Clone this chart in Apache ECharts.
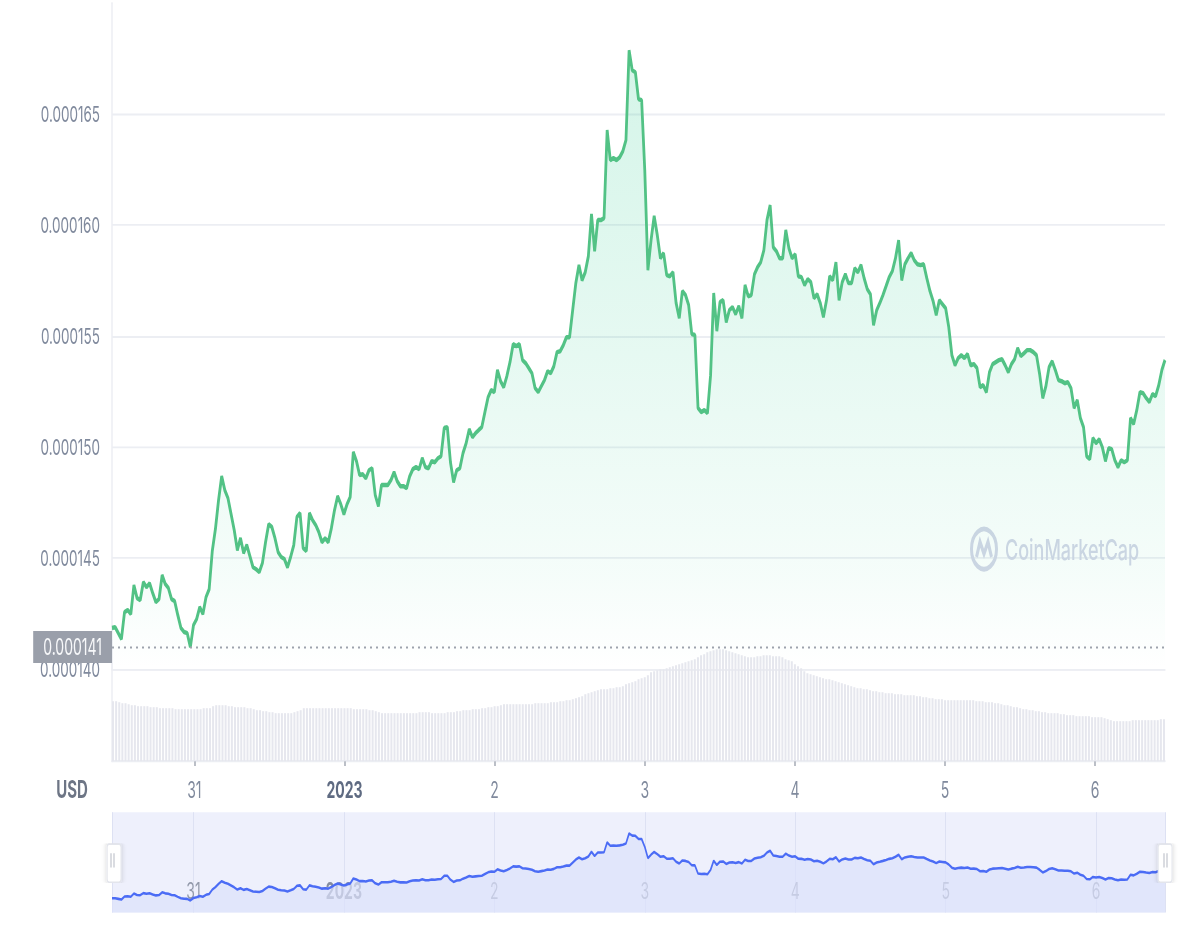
<!DOCTYPE html>
<html><head><meta charset="utf-8">
<script src="https://cdn.jsdelivr.net/npm/echarts@6/dist/echarts.min.js"></script>
<style>
html,body{margin:0;padding:0;background:#fff;}
#wrap{width:1200px;height:930px;overflow:hidden;background:#fff;}
#chart{width:1200px;height:581px;transform:scaleY(1.6007);transform-origin:0 0;}
</style>
</head><body><div id="wrap"><div id="chart"></div></div>
<script>
// ---- data ----
const startTime = new Date(2022, 11, 30, 11, 0, 0).getTime(); // first sample
const stepMinutes = 30;
const currency = 'USD';
const watermarkText = 'CoinMarketCap';
const referencePrice = 0.000141;
const priceAxisMin = 0.000140, priceAxisMax = 0.000170, priceAxisStep = 0.000005;

const prices = [
0.00014185,0.00014189,0.00014162,0.00014135,0.00014257,0.00014266,0.00014248,0.00014378,0.00014320,0.00014311,
0.00014392,0.00014369,0.00014387,0.00014342,0.00014302,0.00014315,0.00014423,0.00014383,0.00014365,0.00014315,
0.00014306,0.00014243,0.00014185,0.00014167,0.00014162,0.00014099,0.00014198,0.00014225,0.00014279,0.00014248,
0.00014324,0.00014360,0.00014532,0.00014631,0.00014761,0.00014869,0.00014806,0.00014770,0.00014698,0.00014626,
0.00014536,0.00014590,0.00014523,0.00014559,0.00014509,0.00014459,0.00014450,0.00014437,0.00014478,0.00014572,
0.00014653,0.00014640,0.00014590,0.00014527,0.00014505,0.00014496,0.00014459,0.00014505,0.00014559,0.00014685,
0.00014703,0.00014545,0.00014532,0.00014703,0.00014671,0.00014649,0.00014617,0.00014572,0.00014590,0.00014572,
0.00014635,0.00014716,0.00014779,0.00014743,0.00014698,0.00014743,0.00014775,0.00014978,0.00014937,0.00014874,
0.00014878,0.00014860,0.00014896,0.00014905,0.00014784,0.00014734,0.00014829,0.00014829,0.00014829,0.00014851,
0.00014887,0.00014847,0.00014824,0.00014824,0.00014815,0.00014869,0.00014901,0.00014910,0.00014901,0.00014950,
0.00014910,0.00014905,0.00014937,0.00014932,0.00014950,0.00014959,0.00015086,0.00015090,0.00014932,0.00014842,
0.00014896,0.00014905,0.00014973,0.00015018,0.00015081,0.00015045,0.00015063,0.00015077,0.00015090,0.00015158,
0.00015225,0.00015257,0.00015248,0.00015347,0.00015297,0.00015270,0.00015320,0.00015383,0.00015464,0.00015455,
0.00015464,0.00015392,0.00015378,0.00015356,0.00015333,0.00015266,0.00015248,0.00015275,0.00015302,0.00015342,
0.00015333,0.00015365,0.00015428,0.00015432,0.00015459,0.00015495,0.00015495,0.00015617,0.00015739,0.00015820,
0.00015752,0.00015788,0.00015860,0.00016050,0.00015883,0.00016023,0.00016023,0.00016032,0.00016428,0.00016293,
0.00016302,0.00016293,0.00016306,0.00016333,0.00016383,0.00016788,0.00016698,0.00016689,0.00016568,0.00016563,
0.00016248,0.00015797,0.00015932,0.00016041,0.00015955,0.00015851,0.00015874,0.00015775,0.00015770,0.00015788,
0.00015649,0.00015581,0.00015703,0.00015685,0.00015640,0.00015509,0.00015505,0.00015176,0.00015158,0.00015167,
0.00015153,0.00015324,0.00015694,0.00015523,0.00015653,0.00015662,0.00015563,0.00015617,0.00015631,0.00015599,
0.00015635,0.00015581,0.00015730,0.00015680,0.00015685,0.00015779,0.00015811,0.00015833,0.00015887,0.00016023,
0.00016090,0.00015901,0.00015883,0.00015851,0.00015851,0.00015978,0.00015896,0.00015851,0.00015869,0.00015770,
0.00015766,0.00015730,0.00015757,0.00015743,0.00015671,0.00015689,0.00015649,0.00015586,0.00015662,0.00015770,
0.00015752,0.00015833,0.00015662,0.00015743,0.00015779,0.00015739,0.00015739,0.00015806,0.00015788,0.00015820,
0.00015761,0.00015712,0.00015689,0.00015550,0.00015617,0.00015649,0.00015685,0.00015725,0.00015766,0.00015793,
0.00015851,0.00015932,0.00015752,0.00015824,0.00015851,0.00015874,0.00015842,0.00015824,0.00015820,0.00015824,
0.00015761,0.00015703,0.00015658,0.00015595,0.00015662,0.00015644,0.00015626,0.00015541,0.00015414,0.00015369,
0.00015401,0.00015414,0.00015401,0.00015419,0.00015369,0.00015374,0.00015356,0.00015270,0.00015279,0.00015248,
0.00015338,0.00015374,0.00015383,0.00015392,0.00015396,0.00015369,0.00015338,0.00015374,0.00015396,0.00015446,
0.00015410,0.00015423,0.00015437,0.00015437,0.00015428,0.00015414,0.00015329,0.00015221,0.00015275,0.00015360,
0.00015387,0.00015347,0.00015302,0.00015297,0.00015288,0.00015293,0.00015266,0.00015176,0.00015212,0.00015131,
0.00015090,0.00014959,0.00014946,0.00015041,0.00015018,0.00015036,0.00015000,0.00014937,0.00014995,0.00014991,
0.00014941,0.00014910,0.00014941,0.00014932,0.00014941,0.00015131,0.00015104,0.00015167,0.00015248,0.00015243,
0.00015221,0.00015203,0.00015239,0.00015230,0.00015279,0.00015347,0.00015392
];

const volumes = [
60,60,59,58,58,57,56,56,55,55,
55,55,54,54,54,53,53,53,53,53,
52,52,52,52,52,52,52,52,52,53,
53,53,55,56,56,56,56,55,55,54,
54,54,54,53,53,52,51,51,50,50,
49,49,48,48,48,48,48,48,49,50,
51,53,53,53,53,53,53,53,53,53,
53,53,53,53,53,53,53,52,52,52,
52,52,51,51,50,49,48,48,48,48,
48,48,48,48,48,48,48,48,49,49,
49,49,48,48,48,48,48,49,49,49,
50,50,51,51,51,52,52,52,53,53,
54,54,55,55,56,57,57,57,57,57,
57,57,57,57,57,58,58,58,58,58,
59,59,59,60,60,61,61,62,63,64,
65,67,68,69,70,71,72,72,72,73,
73,74,74,75,77,78,79,80,82,83,
84,86,89,90,91,92,92,93,94,95,
96,97,98,99,100,101,102,104,106,107,
109,110,111,112,112,112,111,110,109,108,
107,106,105,104,104,104,105,105,106,106,
106,105,105,105,104,102,101,100,97,95,
93,90,88,87,86,85,84,83,82,82,
81,80,79,78,77,76,75,74,73,73,
72,72,71,70,70,69,69,68,68,68,
67,67,67,66,66,66,66,65,65,64,
64,63,63,62,62,62,61,61,61,61,
61,61,61,61,61,61,60,60,60,59,
59,59,58,58,57,56,56,55,54,54,
53,52,52,51,51,50,50,49,49,48,
48,48,48,47,47,46,46,46,45,45,
45,45,45,44,44,44,44,43,42,41,
40,40,40,40,40,40,41,41,41,41,
41,41,41,41,41,42,42
];

// ---- build ----
const times = prices.map((_, i) => startTime + i * stepMinutes * 60000);
const xMin = times[0], xMax = times[times.length - 1];
const priceData = times.map((t, i) => [t, prices[i]]);
const volumeData = times.map((t, i) => [t, volumes[i]]);
const DAY = 24 * 3600 * 1000;

function dayLabel(v) {
  const d = new Date(v);
  if (d.getHours() !== 0 || d.getMinutes() !== 0) return '';
  if (d.getDate() === 1 && d.getMonth() === 0) return '{y|' + d.getFullYear() + '}';
  return '{d|' + d.getDate() + '}';
}

const FONT = 'Inter, "Liberation Sans", sans-serif';
const grid = '#eceef3';
const chart = echarts.init(document.getElementById('chart'), null, { renderer: 'svg' });
chart.setOption({
  animation: false,
  backgroundColor: '#ffffff',
  textStyle: { fontFamily: FONT },
  grid: [
    { left: 112, right: 35, top: 2, height: 416 },
    { left: 112, right: 35, top: 400, height: 75.5 },
    { left: 112, right: 35, top: 507.5, height: 62.5, show: true, backgroundColor: '#eef0fc', borderWidth: 0 }
  ],
  xAxis: [
    { type: 'time', gridIndex: 0, min: xMin, max: xMax,
      axisLine: { show: true, lineStyle: { color: grid, width: 1.2 } },
      axisTick: { show: false }, axisLabel: { show: false }, splitLine: { show: false } },
    { type: 'time', gridIndex: 1, min: xMin, max: xMax, minInterval: DAY, maxInterval: DAY,
      axisLine: { show: true, lineStyle: { color: grid, width: 1.4 } },
      axisTick: { show: true, length: 3, lineStyle: { color: '#a4aab5', width: 1.5 } },
      axisLabel: { formatter: dayLabel, margin: 11, showMinLabel: false, showMaxLabel: false,
        rich: { d: { fontSize: 14, color: '#808a9d' }, y: { fontSize: 14, color: '#5f6b82', fontWeight: 'bold' } } },
      splitLine: { show: false } },
    { type: 'time', gridIndex: 2, min: xMin, max: xMax, minInterval: DAY, maxInterval: DAY,
      axisLine: { show: false }, axisTick: { show: false },
      axisLabel: { inside: true, formatter: dayLabel, margin: 6, showMinLabel: false, showMaxLabel: false,
        rich: { d: { fontSize: 14, color: '#939aab' }, y: { fontSize: 14, color: '#858da0', fontWeight: 'bold' } } },
      splitLine: { show: true, lineStyle: { color: '#dde1f3', width: 1 } } }
  ],
  yAxis: [
    { type: 'value', gridIndex: 0, min: priceAxisMin, max: priceAxisMax, interval: priceAxisStep,
      axisLine: { show: true, lineStyle: { color: grid, width: 1.5 } }, axisTick: { show: false },
      axisLabel: { formatter: v => v.toFixed(6), fontSize: 13.5, color: '#808a9d', margin: 12, showMaxLabel: false },
      splitLine: { show: true, lineStyle: { color: [grid, grid, grid, grid, grid, grid, 'rgba(0,0,0,0)'], width: 1.2 } } },
    { type: 'value', gridIndex: 1, min: 0, max: 121,
      axisLine: { show: true, lineStyle: { color: grid, width: 1.5 } }, axisTick: { show: false },
      axisLabel: { show: false }, splitLine: { show: false } },
    { type: 'value', gridIndex: 2, min: 0.0001362, max: 0.0001763, show: false }
  ],
  dataZoom: [{
    type: 'slider', xAxisIndex: [0, 1], filterMode: 'none', start: 0, end: 100,
    left: 112, right: 35, top: 507.5, height: 62.5, showDetail: false, showDataShadow: false,
    brushSelect: false, zoomLock: true, moveHandleSize: 0,
    backgroundColor: 'rgba(0,0,0,0)', fillerColor: 'rgba(0,0,0,0)', borderColor: 'rgba(0,0,0,0)',
    handleIcon: 'path://M2,0H12A2,2,0,0,1,14,2V22A2,2,0,0,1,12,24H2A2,2,0,0,1,0,22V2A2,2,0,0,1,2,0Z',
    handleSize: '38%',
    handleStyle: { color: '#ffffff', borderColor: '#e3e5ec', borderWidth: 1, shadowBlur: 5, shadowColor: 'rgba(0,0,0,0.18)' }
  }],
  graphic: [
    { type: 'text', x: 72, y: 493, style: { text: currency, align: 'center', verticalAlign: 'middle',
      font: 'bold 15px ' + FONT, fill: '#6d7585' } },
    { type: 'circle', shape: { cx: 984, cy: 343, r: 12.5 }, z: 1,
      style: { fill: 'none', stroke: '#d3d6e7', lineWidth: 3 } },
    { type: 'polyline', shape: { points: [[976.5, 348], [980, 338.5], [984, 346], [988, 338.5], [991.5, 348]] }, z: 1,
      style: { fill: 'none', stroke: '#d3d6e7', lineWidth: 3 } },
    { type: 'text', x: 1005, y: 343.5, z: 1, style: { text: watermarkText, align: 'left', verticalAlign: 'middle',
      font: '500 18px ' + FONT, fill: '#d3d6e7' } },
    { type: 'rect', shape: { x: 110.5, y: 533, width: 1, height: 9 }, z: 100, style: { fill: '#b5b9c4' } },
    { type: 'rect', shape: { x: 113.5, y: 533, width: 1, height: 9 }, z: 100, style: { fill: '#b5b9c4' } },
    { type: 'rect', shape: { x: 1163.5, y: 533, width: 1, height: 9 }, z: 100, style: { fill: '#b5b9c4' } },
    { type: 'rect', shape: { x: 1166.5, y: 533, width: 1, height: 9 }, z: 100, style: { fill: '#b5b9c4' } }
  ],
  series: [
    { type: 'bar', name: 'Volume', xAxisIndex: 1, yAxisIndex: 1, data: volumeData, barWidth: 2,
      itemStyle: { color: '#e6e7ee' }, silent: true },
    { type: 'line', name: 'Price', xAxisIndex: 0, yAxisIndex: 0, data: priceData, showSymbol: false,
      lineStyle: { color: '#52c285', width: 2.8 },
      areaStyle: { color: { type: 'linear', x: 0, y: 0, x2: 0, y2: 1, colorStops: [
        { offset: 0, color: 'rgba(22,199,132,0.26)' }, { offset: 0.5, color: 'rgba(22,199,132,0.15)' },
        { offset: 0.85, color: 'rgba(22,199,132,0.06)' }, { offset: 1, color: 'rgba(22,199,132,0)' } ] } },
      markLine: { symbol: 'none', silent: true, animation: false, precision: 8,
        lineStyle: { type: [2, 4], color: '#9ea3ad', width: 1.2 },
        label: { position: 'start', distance: 0, formatter: () => referencePrice.toFixed(6),
          backgroundColor: '#9a9faa', color: '#f7f8fa', fontSize: 14, padding: [3, 10, 3, 10] },
        data: [{ yAxis: referencePrice }] } },
    { type: 'line', name: 'Overview', xAxisIndex: 2, yAxisIndex: 2, data: priceData, showSymbol: false,
      lineStyle: { color: '#4b6cf5', width: 1.6 }, areaStyle: { color: '#dbe1fb' }, silent: true }
  ]
});
</script></body></html>
